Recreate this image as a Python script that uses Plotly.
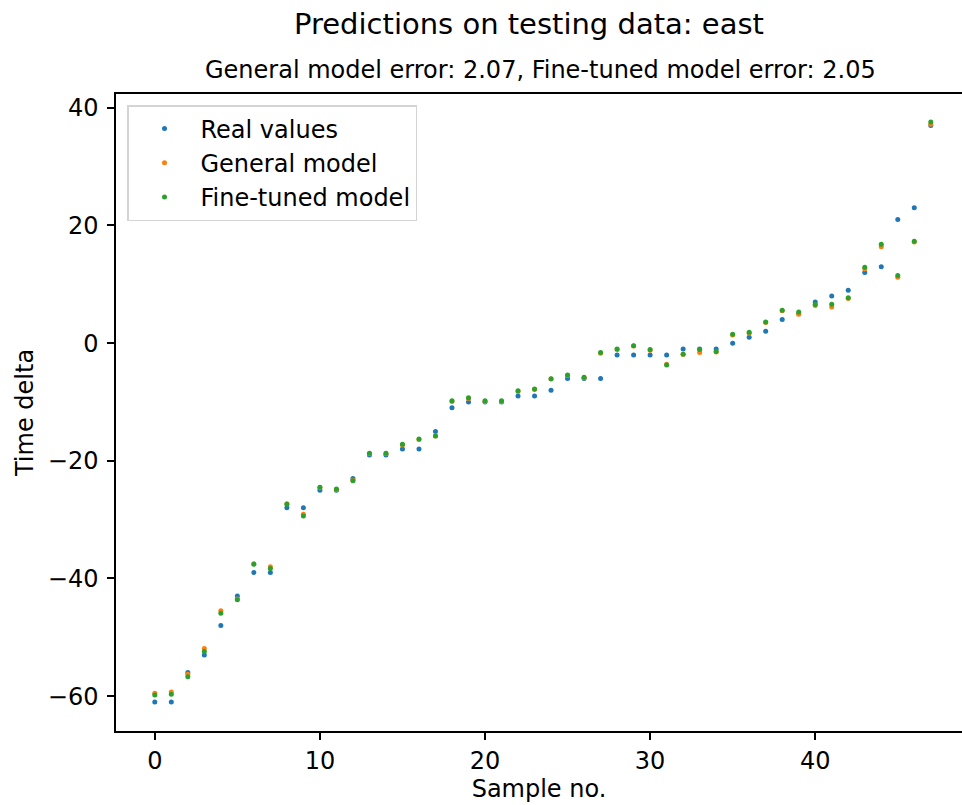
import plotly.graph_objects as go

sample_no = list(range(48))
real_values = [-61, -61, -56, -53, -48, -43, -39, -39, -28, -28, -25, -25, -23, -19, -19, -18,
               -18, -15, -11, -10, -10, -10, -9, -9, -8, -6, -6, -6, -2, -2, -2, -2,
               -1, -1, -1, 0, 1, 2, 4, 5, 7, 8, 9, 12, 13, 21, 23, 37]
general_model = [-59.5, -59.3, -56.3, -51.9, -45.5, -43.5, -37.5, -38.0, -27.3, -29.1, -24.6, -24.9,
                 -23.3, -18.8, -18.8, -17.3, -16.4, -15.8, -9.9, -9.4, -9.9, -9.9, -8.2, -7.9,
                 -6.1, -5.5, -5.9, -1.7, -1.1, -0.5, -1.2, -3.6, -1.9, -1.6, -1.5, 1.4,
                 1.7, 3.5, 5.5, 4.9, 6.4, 6.15, 7.6, 12.6, 16.4, 11.2, 17.2, 37.2]
fine_tuned_model = [-59.8, -59.7, -56.7, -52.4, -45.9, -43.6, -37.6, -38.3, -27.4, -29.4, -24.5, -24.8,
                    -23.4, -18.7, -18.7, -17.2, -16.3, -15.8, -9.8, -9.3, -9.8, -9.8, -8.1, -7.8,
                    -6.05, -5.4, -5.8, -1.6, -1.0, -0.45, -1.07, -3.7, -1.9, -1.07, -1.4, 1.5,
                    1.86, 3.6, 5.6, 5.3, 6.55, 6.6, 7.7, 12.9, 16.8, 11.5, 17.3, 37.6]

series_names = ["Real values", "General model", "Fine-tuned model"]
series_colors = ["#1f77b4", "#ff7f0e", "#2ca02c"]
title_text = "Predictions on testing data: east"
subtitle_text = "General model error: 2.07, Fine-tuned model error: 2.05"

FONT = "DejaVu Sans"
W, H = 962, 805
L, R, T, B = 116, 0, 94, 74

fig = go.Figure()
for name, vals, col in zip(series_names, [real_values, general_model, fine_tuned_model], series_colors):
    fig.add_trace(go.Scatter(x=sample_no, y=vals, mode="markers", name=name,
                             marker=dict(color=col, size=5, line=dict(width=0))))

pw = W - L - R
ph = H - T - B

def px_x(p):
    return (p - L) / pw

def px_y(p):
    return (H - B - p) / ph

fig.add_annotation(text=title_text, xref="paper", yref="paper", x=px_x(528.5), y=px_y(24),
                   xanchor="center", yanchor="middle", showarrow=False,
                   font=dict(family=FONT, size=29, color="black"))
fig.add_annotation(text=subtitle_text, xref="paper", yref="paper", x=px_x(540.5), y=px_y(70),
                   xanchor="center", yanchor="middle", showarrow=False,
                   font=dict(family=FONT, size=24, color="black"))

fig.update_layout(
    width=W, height=H,
    margin=dict(l=L, r=R, t=T, b=B, pad=0),
    paper_bgcolor="white", plot_bgcolor="white",
    font=dict(family=FONT, size=24, color="black"),
    showlegend=True,
    legend=dict(x=px_x(127), y=px_y(105), xanchor="left", yanchor="top",
                bgcolor="rgba(255,255,255,0.8)", bordercolor="#d4d4d4", borderwidth=1.5,
                font=dict(family=FONT, size=24, color="black"), itemwidth=62,
                tracegroupgap=0),
    xaxis=dict(range=[-2.35, 48.89], showgrid=False, zeroline=False,
               showline=True, linecolor="black", linewidth=1.5, mirror=True,
               ticks="outside", ticklen=7, tickwidth=1.5, tickcolor="black",
               tickvals=[0, 10, 20, 30, 40],
               title=dict(text="Sample no.", font=dict(family=FONT, size=24), standoff=6),
               tickfont=dict(family=FONT, size=24)),
    yaxis=dict(range=[-65.93, 42.35], showgrid=False, zeroline=False,
               showline=True, linecolor="black", linewidth=1.5, mirror=False,
               ticks="outside", ticklen=7, tickwidth=1.5, tickcolor="black",
               tickvals=[-60, -40, -20, 0, 20, 40], ticklabelstandoff=4,
               title=dict(text="Time delta", font=dict(family=FONT, size=24), standoff=7),
               tickfont=dict(family=FONT, size=24)),
)

fig.write_html("out.html", config={"displayModeBar": False},
               post_script="document.body.style.margin='0';document.body.style.padding='0';")
